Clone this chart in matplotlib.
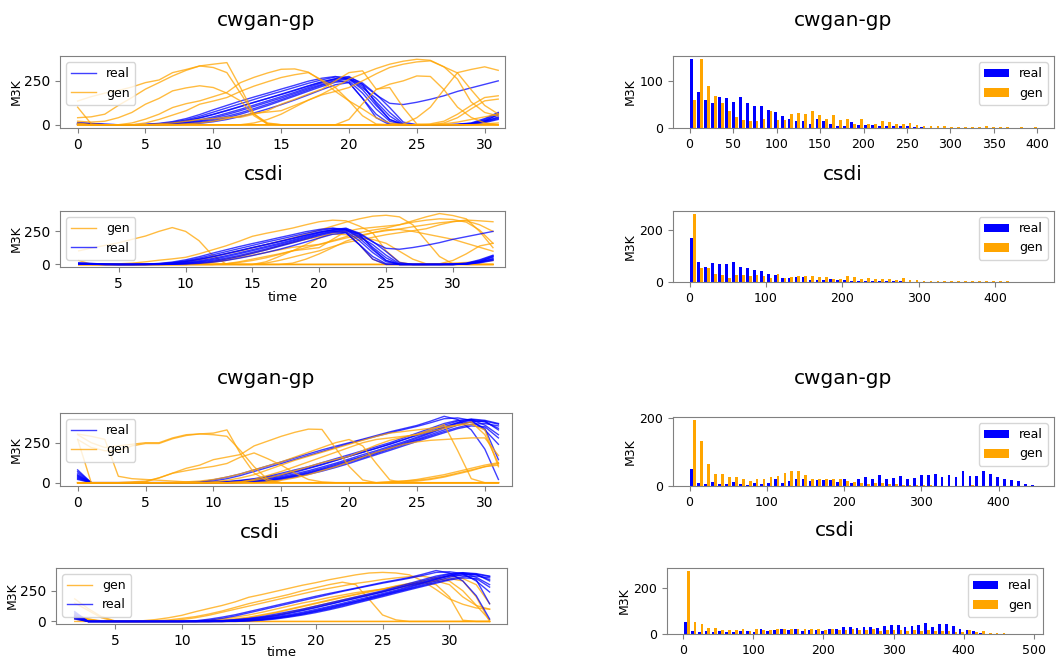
import numpy as np
import matplotlib
matplotlib.use("Agg")
import matplotlib.pyplot as plt

# ---- top experiment, real curves (t = 0..31, csdi panel shows them at t = 2..33)
real_top = [
    [12,8,2,0,0,2,8,18,35,58,85,110,135,158,180,203,225,248,265,275,260,200,110,30,0,0,0,0,0,5,20,40],
    [8,5,1,0,0,1,5,14,28,48,72,96,120,144,168,190,213,236,256,272,270,238,174,98,15,0,0,0,2,8,25,55],
    [5,3,0,0,0,0,3,10,22,38,58,80,103,127,150,174,198,222,245,262,265,220,130,50,0,0,0,0,0,6,30,65],
    [3,2,0,0,0,0,2,6,15,28,45,66,88,112,136,160,185,212,238,258,262,210,150,70,5,0,0,0,3,10,35,70],
    [2,1,0,0,0,0,1,4,11,22,38,58,80,104,128,152,178,205,230,252,240,150,60,5,0,0,0,0,0,4,18,45],
    [6,4,1,0,0,0,1,3,9,18,31,48,68,92,117,143,170,198,225,248,262,230,120,30,0,0,0,0,0,3,20,60],
    [4,2,0,0,0,0,0,2,6,13,24,40,60,84,109,136,163,191,218,242,250,180,90,20,0,0,0,0,0,2,15,35],
    [2,1,0,0,0,0,0,1,3,8,17,30,47,67,90,114,141,170,200,228,240,150,40,0,0,0,0,0,0,3,12,30],
    [10,6,2,0,0,1,4,10,22,40,60,82,105,128,150,172,195,220,243,262,275,230,170,122,115,128,145,165,190,210,230,250],
]

gen_top_cwgan = [
    [100,5,0,0,0,0,0,0,0,0,0,0,0,0,0,0,0,0,0,0,0,0,0,0,0,0,0,5,15,30,45,60],
    [135,160,180,195,215,240,255,297,315,335,345,354,212,61,4,0,0,0,0,0,0,0,0,0,0,0,0,0,0,0,5,10],
    [40,45,60,110,155,203,240,278,310,335,326,297,180,61,10,0,0,0,0,0,0,0,0,0,0,0,0,0,0,0,0,0],
    [20,15,20,40,70,117,150,193,210,222,212,180,136,51,4,0,0,0,0,0,0,0,0,0,0,0,0,0,0,0,0,0],
    [5,0,0,0,10,32,60,98,120,136,160,184,240,270,295,316,318,300,250,190,136,51,4,0,0,0,0,0,0,0,0,0],
    [0,0,0,0,0,10,30,55,80,117,135,155,190,220,245,269,285,297,255,212,136,90,40,10,0,0,0,0,0,0,0,0],
    [0,0,0,0,0,0,5,10,20,30,35,42,42,60,80,117,145,175,203,250,297,307,203,212,98,4,0,0,0,0,0,0],
    [0,0,0,0,0,0,0,0,5,10,20,35,50,65,72,80,110,140,174,215,260,290,320,345,362,373,367,330,260,130,70,50],
    [0,0,0,0,0,0,0,0,0,0,0,0,0,10,30,60,100,140,170,190,212,250,290,326,345,358,364,330,295,200,110,61],
    [0,0,0,0,0,0,0,0,0,0,0,0,0,0,0,0,0,0,0,0,30,120,200,231,250,278,275,200,100,42,10,0],
    [0,0,0,0,0,0,0,0,0,0,0,0,0,0,0,0,0,0,0,0,0,0,0,0,4,40,100,200,297,315,330,310],
    [10,0,0,0,0,0,0,0,0,0,0,0,0,0,0,0,0,0,0,0,0,0,0,0,0,0,5,20,60,110,155,165],
    [0,0,0,0,0,0,0,0,0,0,0,0,0,0,0,0,0,0,0,0,0,0,0,0,0,0,0,10,40,90,136,146],
]

# t = 2..33
gen_top_csdi = [
    [103,125,145,164,190,215,250,279,250,180,70,5,0,0,0,0,0,0,0,0,0,0,0,0,0,0,0,0,0,0,0,0],
    [30,0,0,0,0,0,0,0,0,0,0,0,0,0,0,0,0,0,0,0,0,0,0,0,0,0,0,0,0,0,0,0],
    [0,0,0,5,10,20,32,42,54,80,110,140,175,213,235,255,275,300,323,335,330,290,238,103,17,0,0,0,0,0,0,0],
    [0,0,0,0,0,0,5,10,20,35,55,80,100,125,150,175,200,230,260,290,320,345,365,372,360,300,180,60,5,0,0,0],
    [0,0,0,0,0,0,0,0,0,5,15,30,50,70,90,110,130,140,152,180,210,240,260,275,300,330,360,385,370,345,250,127],
    [0,0,0,0,0,0,0,0,0,0,0,0,0,0,10,30,55,80,103,135,165,185,205,225,240,255,270,300,323,336,330,323],
    [0,0,0,0,0,0,0,0,0,0,0,5,15,30,50,75,103,127,150,175,200,220,240,255,268,285,300,315,325,330,300,250],
    [0,0,0,0,0,0,0,0,0,0,0,0,0,0,20,60,103,150,200,240,250,150,40,0,0,0,0,5,30,80,140,160],
    [0,0,0,0,0,0,0,0,0,0,0,0,0,0,0,0,10,40,80,127,176,210,240,262,265,250,230,210,190,160,130,100],
    [0,0,0,0,0,0,0,0,0,0,0,0,0,0,0,0,0,0,0,0,0,0,0,0,0,0,0,5,10,15,20,30],
    [0,0,0,0,0,0,0,0,0,0,0,5,20,40,60,80,103,115,127,190,250,270,280,290,300,320,335,345,340,320,260,160],
    [0,0,0,0,0,0,0,0,0,5,20,40,60,85,110,140,165,190,210,230,225,200,189,160,100,40,5,0,0,0,0,0],
]

# ---- bottom experiment, real curves
real_bot = [
    [80,0,0,0,0,0,0,0,0,5,18,35,55,80,105,130,155,180,205,228,250,272,295,318,338,358,385,415,395,330,210,20],
    [50,0,0,0,0,0,0,0,0,2,10,25,45,70,95,120,145,170,195,220,245,268,290,312,332,352,375,400,405,390,330,240],
    [30,0,0,0,0,0,0,0,0,0,3,8,15,25,40,59,80,100,125,150,175,200,225,250,280,310,340,370,390,395,385,366],
    [60,0,0,0,0,0,0,0,0,0,2,5,12,22,35,50,70,92,115,140,165,190,215,240,268,300,330,360,385,398,390,370],
    [40,0,0,0,0,0,0,0,0,0,0,3,10,18,30,45,65,88,112,138,165,190,215,242,270,295,320,350,375,390,380,340],
    [70,0,0,0,0,0,0,0,0,0,0,2,6,14,25,38,55,75,98,122,148,175,200,228,255,285,315,345,375,395,360,300],
    [25,0,0,0,0,0,0,0,0,0,0,0,4,10,20,32,48,68,90,115,140,165,192,220,248,278,310,342,370,380,340,144],
    [35,0,0,0,0,0,0,0,0,0,0,0,2,6,14,25,40,58,80,102,128,155,182,210,238,265,292,320,345,365,370,355],
    [45,0,0,0,0,0,0,0,0,0,0,0,3,8,16,28,44,62,84,108,135,162,188,215,242,270,300,330,360,380,385,330],
    [20,0,0,0,0,0,0,0,0,0,0,0,0,4,10,20,35,52,72,95,120,148,175,202,230,258,285,312,338,355,350,280],
]

gen_bot_cwgan = [
    [300,250,220,230,240,250,250,280,300,305,310,330,180,60,10,0,0,0,0,0,0,0,0,0,0,0,0,0,0,0,0,0],
    [270,220,200,200,230,245,245,275,295,305,300,290,200,100,20,0,0,0,0,0,0,0,0,0,0,0,0,0,0,0,0,0],
    [304,290,271,40,25,20,15,10,5,0,0,0,0,0,0,0,0,0,0,0,0,0,0,0,0,0,0,0,0,0,0,0],
    [271,0,0,0,0,0,0,0,0,0,0,0,0,0,0,0,0,0,0,0,0,0,0,0,0,0,0,0,0,0,0,0],
    [0,0,0,0,5,10,30,60,90,110,144,160,176,230,260,290,315,335,333,216,102,17,0,0,0,0,0,0,0,0,0,0],
    [0,0,0,0,0,5,30,59,75,90,102,120,160,186,150,110,60,20,5,0,0,0,0,0,0,0,0,0,0,0,0,0],
    [0,0,0,0,0,0,0,0,0,0,0,0,5,20,45,70,100,130,160,190,220,250,270,280,290,300,320,340,360,380,300,120],
    [0,0,0,0,0,0,0,0,0,0,0,0,0,0,5,15,30,50,75,100,130,160,190,215,240,255,265,270,275,280,280,170],
    [0,0,0,0,0,0,0,0,0,0,5,15,30,50,80,110,140,165,190,215,240,265,290,310,320,330,340,350,360,365,330,100],
    [0,0,0,0,0,0,0,0,5,10,20,35,55,80,105,130,160,190,220,250,270,230,120,17,0,0,0,0,0,0,0,0],
    [0,0,0,0,0,0,0,0,0,0,0,0,0,0,0,0,0,0,0,0,0,0,0,5,10,20,35,50,70,90,110,125],
    [0,0,0,0,0,0,0,0,0,0,0,0,0,0,0,0,0,0,0,0,0,0,0,0,5,10,20,35,55,75,100,120],
    [0,0,0,0,0,0,0,0,0,0,0,0,0,0,0,0,0,0,0,0,0,0,0,5,10,15,25,40,60,80,100,110],
    [0,0,0,0,0,0,0,0,0,0,0,0,5,15,30,50,75,100,125,145,165,200,235,265,285,303,330,364,200,25,0,0],
]

# t = 2..33
gen_bot_csdi = [
    [184,105,39,5,0,0,0,0,0,0,0,0,0,0,0,0,0,0,0,0,0,0,0,0,0,0,0,0,0,0,0,0],
    [150,90,30,0,0,0,0,0,0,0,0,0,0,0,0,0,0,0,0,0,0,0,0,0,0,0,0,0,0,0,0,0],
    [40,20,5,0,0,5,15,30,50,79,105,130,160,197,220,245,270,295,316,340,360,380,395,400,395,380,330,260,184,140,110,100],
    [60,20,0,0,0,0,5,12,25,39,60,85,115,145,170,195,220,250,275,300,320,300,180,53,13,0,0,0,0,0,0,0],
    [20,0,0,0,0,0,0,5,15,30,50,75,100,125,150,175,200,225,250,270,290,310,325,342,355,365,368,350,329,250,132,13],
    [50,15,0,0,0,0,0,0,0,5,10,20,35,53,75,100,125,150,171,195,215,235,250,263,290,310,329,355,370,350,300,145],
    [40,10,0,0,0,0,0,0,0,0,5,12,22,35,55,75,100,125,150,175,200,222,245,265,285,305,320,300,200,10,0,0],
    [30,5,0,0,0,0,0,0,0,0,0,5,15,30,50,70,95,120,145,170,195,218,240,262,282,300,315,330,300,200,130,100],
    [0,0,0,0,0,0,0,0,0,0,0,0,5,15,30,50,75,100,125,150,175,200,222,245,268,290,310,335,350,330,200,0],
]

# ---- histograms: 50 bins from 0 to the given upper value
hist_top_cwgan_range = 400
hist_top_cwgan_real = [147,78,60,53,67,65,55,67,53,47,47,38,35,26,20,14,15,9,19,15,8,4,4,13,6,
                       6,7,4,4,5,4,4,3,3,1,0,0,0,0,0,0,0,0,0,0,0,0,0,0,0]
hist_top_cwgan_gen = [59,147,90,69,53,36,24,18,14,15,19,36,17,17,29,32,29,36,28,19,28,17,19,9,19,
                      9,8,14,12,9,9,11,7,4,4,4,4,2,2,2,2,3,4,3,2,2,0,3,0,3]

hist_top_csdi_range = 455
hist_top_csdi_real = [172,77,58,74,71,68,77,58,55,45,43,30,28,15,15,19,19,9,6,6,13,9,6,4,5,
                      4,4,4,3,2,2,0,0,0,0,0,0,0,0,0,0,0,0,0,0,0,0,0,0,0]
hist_top_csdi_gen = [262,55,55,30,26,15,28,28,22,28,23,15,32,15,19,22,22,23,19,19,13,13,23,19,13,
                     17,13,10,13,9,15,6,6,5,4,4,4,3,3,3,2,2,2,4,2,2,1,1,0,0]

hist_bot_cwgan_range = 450
hist_bot_cwgan_real = [49,10,5,12,5,7,12,7,4,10,7,10,19,10,15,19,19,14,17,17,17,12,19,9,19,
                       26,20,33,21,24,28,21,24,31,33,34,26,31,26,43,28,28,44,36,26,20,17,14,7,3]
hist_bot_cwgan_gen = [192,131,65,36,34,26,26,19,14,21,20,26,29,38,44,44,33,21,21,21,19,19,15,12,9,
                      7,10,10,5,7,4,4,2,2,2,1,1,1,1,1,3,1,1,1,0,1,0,0,0,0]

hist_bot_csdi_range = 490
hist_bot_csdi_real = [51,13,9,13,7,13,9,9,13,13,9,20,13,17,20,17,20,13,17,17,13,20,23,29,31,
                      27,31,29,27,33,37,37,31,33,40,47,29,44,44,33,20,17,11,4,0,0,0,0,0,0]
hist_bot_csdi_gen = [273,51,44,27,24,16,16,17,20,13,20,16,16,20,20,20,23,20,23,23,17,20,17,17,20,
                     17,17,20,13,17,17,17,13,16,13,16,11,13,13,9,9,16,7,13,4,4,4,1,1,2]

W, H = 1056, 659
fig = plt.figure(figsize=(W / 100, H / 100), dpi=100)


def box(l, t, r, b):
    # pixel box -> figure fraction rect
    return fig.add_axes([l / W, 1 - b / H, (r - l) / W, (b - t) / H])


def style(ax, size):
    for s in ax.spines.values():
        s.set_color("#808080")
    ax.tick_params(labelsize=size, color="#808080")


def lines(ax, real, gen, t0, gen_first, xlim):
    def draw(curves, color, name):
        for i, y in enumerate(curves):
            ax.plot(t0 + np.arange(len(y)), y, color=color, lw=1.0, alpha=0.75,
                    label=name if i == 0 else None)
    if gen_first:
        draw(gen, "orange", "gen")
        draw(real, "blue", "real")
    else:
        draw(real, "blue", "real")
        draw(gen, "orange", "gen")
    ax.set_xlim(*xlim)
    ax.set_yticks([0, 250])
    ax.set_ylabel("M3K", fontsize=9, labelpad=1)
    ax.legend(loc="upper left", fontsize=9)
    style(ax, 10)


def hist(ax, real, gen, hi, yticks):
    edges = np.linspace(0, hi, len(real) + 1)
    mids = (edges[:-1] + edges[1:]) / 2
    ax.hist([mids, mids], bins=edges, weights=[real, gen],
            color=["blue", "orange"], label=["real", "gen"])
    ax.set_yticks(yticks)
    ax.set_ylabel("M3K", fontsize=9, labelpad=2)
    ax.legend(loc="upper right", fontsize=9)
    style(ax, 9)


ax = box(60, 56, 505, 128)
lines(ax, real_top, gen_top_cwgan, 0, False, (-1.3, 31.5))
ax = box(60, 211, 505, 267)
lines(ax, real_top, gen_top_csdi, 2, True, (0.6, 33.9))
ax.set_xlabel("time", fontsize=9.5, labelpad=0)

ax = box(60, 413, 512, 486)
lines(ax, real_bot, gen_bot_cwgan, 0, False, (-1.3, 32.0))
ax = box(56, 568, 507, 624)
lines(ax, real_bot, gen_bot_csdi, 2, True, (0.6, 34.3))
ax.set_xlabel("time", fontsize=9.5, labelpad=-1)

ax = box(673, 56, 1054, 128)
hist(ax, hist_top_cwgan_real, hist_top_cwgan_gen, hist_top_cwgan_range, [0, 100])
ax.set_xticks(range(0, 401, 50))
ax = box(673, 211, 1054, 282)
hist(ax, hist_top_csdi_real, hist_top_csdi_gen, hist_top_csdi_range, [0, 200])
ax = box(673, 417, 1054, 486)
hist(ax, hist_bot_cwgan_real, hist_bot_cwgan_gen, hist_bot_cwgan_range, [0, 200])
ax = box(667, 568, 1043, 634)
hist(ax, hist_bot_csdi_real, hist_bot_csdi_gen, hist_bot_csdi_range, [0, 200])

# titles sit over each panel including its label area
titles = [(266, 21, "cwgan-gp"), (264, 175, "csdi"), (266, 378, "cwgan-gp"), (260, 533, "csdi"),
          (843, 20, "cwgan-gp"), (843, 175, "csdi"), (843, 378, "cwgan-gp"), (835, 530, "csdi")]
for x, y, s in titles:
    fig.text(x / W, 1 - y / H, s, ha="center", va="center", fontsize=14.5)

fig.savefig("out.png", dpi=100)
